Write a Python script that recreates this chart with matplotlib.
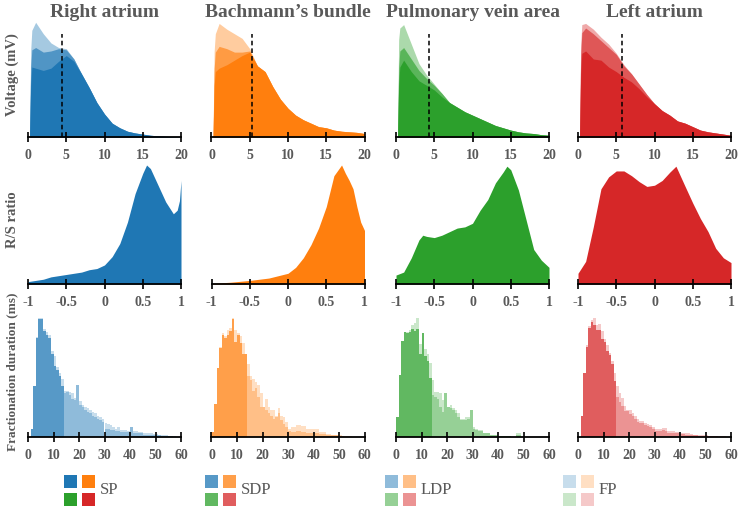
import numpy as np
import matplotlib
matplotlib.use("Agg")
import matplotlib.pyplot as plt
from matplotlib.patches import Rectangle
from matplotlib.colors import to_rgb

# regions / colours
regions = ["Right atrium", "Bachmann\u2019s bundle", "Pulmonary vein area", "Left atrium"]
colors = ["#1f77b4", "#ff7f0e", "#2ca02c", "#d62728"]

# ---- row 1 : voltage distributions (three overlaid layers) ----
volt_x = [0.2, 0.35, 0.5, 1, 2, 3, 4, 5, 6, 7, 8, 9, 10, 11, 12, 13, 14, 15, 16, 17, 18, 19, 20]
volt_dark = [
    [0, 0.45, 0.61, 0.60, 0.58, 0.60, 0.66, 0.71, 0.66, 0.55, 0.43, 0.30, 0.20, 0.12, 0.08, 0.05, 0.035, 0.025, 0.015, 0.01, 0.006, 0.003, 0.001],
    [0, 0.45, 0.57, 0.60, 0.63, 0.67, 0.71, 0.74, 0.62, 0.57, 0.44, 0.33, 0.25, 0.19, 0.15, 0.12, 0.09, 0.08, 0.06, 0.05, 0.045, 0.04, 0.03],
    [0, 0.45, 0.61, 0.67, 0.57, 0.49, 0.45, 0.41, 0.35, 0.30, 0.26, 0.22, 0.19, 0.16, 0.13, 0.10, 0.08, 0.06, 0.045, 0.035, 0.03, 0.02, 0.015],
    [0, 0.55, 0.73, 0.75, 0.68, 0.67, 0.61, 0.57, 0.52, 0.48, 0.42, 0.35, 0.29, 0.23, 0.19, 0.14, 0.12, 0.09, 0.06, 0.045, 0.035, 0.025, 0.015],
]
volt_mid = [
    [0, 0.60, 0.76, 0.78, 0.74, 0.75, 0.77, 0.76, 0.68, 0.55, 0.43, 0.30, 0.20, 0.12, 0.08, 0.05, 0.035, 0.025, 0.015, 0.01, 0.006, 0.003, 0.001],
    [0, 0.60, 0.74, 0.79, 0.77, 0.74, 0.74, 0.75, 0.62, 0.57, 0.44, 0.33, 0.25, 0.19, 0.15, 0.12, 0.09, 0.08, 0.06, 0.05, 0.045, 0.04, 0.03],
    [0, 0.60, 0.75, 0.78, 0.68, 0.58, 0.51, 0.45, 0.38, 0.30, 0.26, 0.22, 0.19, 0.16, 0.13, 0.10, 0.08, 0.06, 0.045, 0.035, 0.03, 0.02, 0.015],
    [0, 0.70, 0.91, 0.95, 0.90, 0.84, 0.78, 0.72, 0.62, 0.55, 0.46, 0.37, 0.29, 0.23, 0.19, 0.14, 0.12, 0.09, 0.06, 0.045, 0.035, 0.025, 0.015],
]
volt_light = [
    [0, 0.75, 0.93, 1.00, 0.90, 0.82, 0.78, 0.77, 0.68, 0.55, 0.43, 0.30, 0.20, 0.12, 0.08, 0.05, 0.035, 0.025, 0.015, 0.01, 0.006, 0.003, 0.001],
    [0, 0.75, 0.90, 0.99, 0.94, 0.90, 0.86, 0.77, 0.62, 0.57, 0.44, 0.33, 0.25, 0.19, 0.15, 0.12, 0.09, 0.08, 0.06, 0.05, 0.045, 0.04, 0.03],
    [0, 0.85, 0.95, 0.98, 0.81, 0.64, 0.54, 0.46, 0.38, 0.30, 0.26, 0.22, 0.19, 0.16, 0.13, 0.10, 0.08, 0.06, 0.045, 0.035, 0.03, 0.02, 0.015],
    [0, 0.80, 0.98, 0.99, 0.94, 0.87, 0.81, 0.73, 0.63, 0.55, 0.46, 0.37, 0.29, 0.23, 0.19, 0.14, 0.12, 0.09, 0.06, 0.045, 0.035, 0.025, 0.015],
]
volt_cut = [4.4, 5.35, 4.25, 5.7]

# ---- row 2 : R/S ratio ----
rs_x = [
    [-1, -0.9, -0.8, -0.7, -0.6, -0.5, -0.4, -0.3, -0.2, -0.1, 0, 0.1, 0.2, 0.3, 0.4, 0.5, 0.55, 0.6, 0.7, 0.8, 0.9, 0.95, 0.98, 1.0],
    [-1, -0.75, -0.5, -0.25, 0, 0.1, 0.2, 0.3, 0.4, 0.5, 0.55, 0.6, 0.7, 0.75, 0.8, 0.85, 0.9, 0.95, 1.0],
    [-1, -0.9, -0.8, -0.7, -0.65, -0.6, -0.5, -0.4, -0.3, -0.2, -0.1, 0, 0.1, 0.2, 0.3, 0.4, 0.45, 0.5, 0.6, 0.7, 0.8, 0.9, 1.0],
    [-1, -0.9, -0.8, -0.7, -0.6, -0.5, -0.4, -0.3, -0.2, -0.1, 0, 0.1, 0.2, 0.28, 0.4, 0.5, 0.6, 0.7, 0.8, 0.9, 1.0],
]
rs_y = [
    [0.02, 0.03, 0.04, 0.06, 0.07, 0.08, 0.09, 0.10, 0.12, 0.13, 0.16, 0.23, 0.34, 0.52, 0.76, 0.93, 1.0, 0.97, 0.83, 0.69, 0.59, 0.62, 0.70, 0.87],
    [0.005, 0.015, 0.03, 0.05, 0.09, 0.14, 0.22, 0.33, 0.47, 0.65, 0.78, 0.91, 1.0, 0.93, 0.87, 0.80, 0.65, 0.52, 0.45],
    [0.075, 0.10, 0.22, 0.37, 0.41, 0.40, 0.39, 0.41, 0.44, 0.47, 0.48, 0.51, 0.62, 0.71, 0.85, 0.94, 0.99, 0.96, 0.79, 0.54, 0.29, 0.20, 0.14],
    [0.09, 0.19, 0.48, 0.80, 0.90, 0.95, 0.95, 0.91, 0.86, 0.82, 0.83, 0.87, 0.94, 0.99, 0.82, 0.68, 0.55, 0.44, 0.30, 0.22, 0.18],
]

# ---- row 3 : fractionation duration, 1 ms bins 0..60 ----
frac_main = [
    [0, 0.07, 0.43, 0.83, 0.99, 0.99, 0.89, 0.86, 0.83, 0.70, 0.60, 0.56, 0.51, 0.43,
     0.37, 0.38, 0.35, 0.32, 0.31, 0.44, 0.27, 0.25, 0.23, 0.21, 0.20, 0.18, 0.17, 0.15, 0.14, 0.13,
     0.07, 0.07, 0.06, 0.06, 0.05, 0.05, 0.04, 0.04, 0.04, 0.04,
     0.08, 0.035, 0.035, 0.03, 0.03, 0.02, 0.02, 0.02, 0.02, 0.02,
     0.015, 0.015, 0.01, 0.01, 0.01, 0.005, 0.005, 0, 0, 0],
    [0.04, 0.28, 0.58, 0.75, 0.86, 0.83, 0.86, 0.89, 0.99, 0.80, 0.86, 0.79, 0.70, 0.70,
     0.51, 0.48, 0.39, 0.41, 0.34, 0.25, 0.25, 0.23, 0.20, 0.18, 0.15, 0.17, 0.20, 0.14, 0.11, 0.08,
     0.05, 0.045, 0.045, 0.05, 0.05, 0.045, 0.045, 0.035, 0.035, 0.035,
     0.03, 0.03, 0.025, 0.025, 0.025, 0.015, 0.015, 0.015, 0.015, 0.015,
     0.01, 0.01, 0, 0, 0, 0, 0, 0, 0, 0],
    [0.17, 0.52, 0.81, 0.88, 0.87, 0.88, 0.91, 0.89, 0.91, 0.70, 0.87, 0.68, 0.64, 0.50,
     0.35, 0.34, 0.32, 0.25, 0.21, 0.37, 0.25, 0.24, 0.23, 0.20, 0.17, 0.14, 0.14, 0.14, 0.15, 0.23,
     0.07, 0.06, 0.05, 0.05, 0.03, 0.03, 0.03, 0.015, 0.015, 0.015,
     0.01, 0.01, 0.01, 0.01, 0.005, 0, 0, 0.015, 0.015, 0,
     0, 0, 0, 0, 0, 0, 0, 0, 0, 0],
    [0, 0.18, 0.54, 0.76, 0.92, 0.97, 0.94, 0.90, 0.90, 0.82, 0.80, 0.72, 0.69, 0.61, 0.47,
     0.34, 0.29, 0.26, 0.22, 0.22, 0.19, 0.18, 0.15, 0.13, 0.12, 0.115, 0.10, 0.09, 0.08, 0.065,
     0.05, 0.05, 0.05, 0.055, 0.05, 0.035, 0.035, 0.035, 0.03, 0.03,
     0.025, 0.025, 0.02, 0.02, 0.02, 0.015, 0.015, 0.01, 0.01, 0.01,
     0.008, 0.008, 0.006, 0.006, 0.005, 0.004, 0.003, 0.003, 0.002, 0.002],
]
frac_fp = [
    [0, 0.07, 0.43, 0.84, 1.0, 1.0, 0.91, 0.88, 0.86, 0.72, 0.68, 0.59, 0.54, 0.49,
     0.39, 0.39, 0.38, 0.37, 0.33, 0.44, 0.30, 0.27, 0.25, 0.24, 0.23, 0.21, 0.20, 0.18, 0.17, 0.15,
     0.12, 0.11, 0.10, 0.085, 0.07, 0.08, 0.06, 0.055, 0.055, 0.05,
     0.08, 0.05, 0.05, 0.045, 0.04, 0.035, 0.03, 0.03, 0.03, 0.025,
     0.025, 0.02, 0.02, 0.015, 0.015, 0.01, 0.01, 0.005, 0, 0],
    [0.04, 0.28, 0.58, 0.76, 0.87, 0.85, 0.90, 0.92, 1.0, 0.90, 0.87, 0.85, 0.79, 0.70,
     0.61, 0.51, 0.49, 0.46, 0.44, 0.37, 0.25, 0.32, 0.25, 0.23, 0.23, 0.18, 0.24, 0.18, 0.17, 0.13,
     0.07, 0.08, 0.08, 0.10, 0.10, 0.09, 0.09, 0.07, 0.07, 0.07,
     0.07, 0.07, 0.04, 0.04, 0.04, 0.025, 0.025, 0.02, 0.02, 0.02,
     0.015, 0.01, 0.01, 0.005, 0.005, 0, 0, 0, 0, 0],
    [0.17, 0.52, 0.81, 0.88, 0.88, 0.90, 0.94, 0.96, 1.0, 0.78, 0.87, 0.74, 0.70, 0.62,
     0.48, 0.38, 0.38, 0.37, 0.31, 0.37, 0.25, 0.27, 0.24, 0.23, 0.20, 0.15, 0.15, 0.17, 0.17, 0.23,
     0.08, 0.07, 0.055, 0.055, 0.035, 0.035, 0.035, 0.02, 0.02, 0.02,
     0.01, 0.01, 0.01, 0.01, 0.005, 0, 0, 0.03, 0.03, 0,
     0, 0, 0, 0, 0, 0, 0, 0, 0, 0],
    [0, 0.18, 0.54, 0.77, 0.93, 0.98, 1.0, 0.94, 0.95, 0.89, 0.82, 0.77, 0.71, 0.64, 0.54,
     0.43, 0.37, 0.33, 0.26, 0.23, 0.23, 0.20, 0.18, 0.15, 0.135, 0.135, 0.12, 0.11, 0.10, 0.085,
     0.065, 0.065, 0.07, 0.075, 0.075, 0.05, 0.05, 0.05, 0.045, 0.045,
     0.03, 0.03, 0.03, 0.03, 0.025, 0.02, 0.02, 0.02, 0.015, 0.015,
     0.013, 0.012, 0.01, 0.01, 0.01, 0.008, 0.006, 0.005, 0.004, 0.003],
]
frac_cut = [14, 14, 14, 15]

legend_labels = ["SP", "SDP", "LDP", "FP"]
legend_alpha = [1.0, 0.75, 0.5, 0.25]

W, H = 738, 507
gray = "#595959"
serif = "Liberation Serif"


def mix(c, a):
    r = np.array(to_rgb(c))
    return tuple(a * r + (1 - a) * np.ones(3))


def px_axes(fig, x0, y_top, w, y_base):
    return fig.add_axes([x0 / W, 1 - y_base / H, w / W, (y_base - y_top) / H])


def style(ax, ticks, labels):
    for s in ["top", "right", "left"]:
        ax.spines[s].set_visible(False)
    ax.spines["bottom"].set_linewidth(1.3)
    ax.set_yticks([])
    ax.set_xticks(ticks)
    ax.set_xticklabels(labels)
    ax.tick_params(axis="x", direction="inout", length=7, width=1.2, pad=5,
                   labelsize=10, labelcolor=gray)
    for t in ax.get_xticklabels():
        t.set_fontfamily(serif)
        t.set_fontweight("bold")
    ax.set_facecolor("none")


fig = plt.figure(figsize=(W / 100, H / 100), dpi=100)

lefts = [28, 211.5, 396, 578]
width = 153

for i in range(4):
    c = colors[i]
    # row 1
    ax = px_axes(fig, lefts[i], 20, width, 137)
    ax.fill_between(volt_x, volt_light[i], color=mix(c, 0.4), lw=0)
    ax.fill_between(volt_x, volt_mid[i], color=mix(c, 0.78), lw=0)
    ax.fill_between(volt_x, volt_dark[i], color=c, lw=0)
    ax.vlines(volt_cut[i], 0, 0.9, colors="black", linestyles=(0, (3, 2)), lw=1.1)
    ax.set_xlim(0, 20)
    ax.set_ylim(0, 1.02)
    style(ax, [0, 5, 10, 15, 20], ["0", "5", "10", "15", "20"])
    ax.set_title(regions[i], fontfamily=serif, fontweight="bold", fontsize=14,
                 color=gray, y=1.0, pad=2)

    # row 2
    ax = px_axes(fig, lefts[i], 165, width, 284)
    ax.fill_between(rs_x[i], rs_y[i], color=c, lw=0)
    ax.set_xlim(-1, 1)
    ax.set_ylim(0, 1.0)
    style(ax, [-1, -0.5, 0, 0.5, 1], ["-1", "-0.5", "0", "0.5", "1"])

    # row 3
    ax = px_axes(fig, lefts[i], 318, width, 437)
    edges = np.arange(60)
    main = np.array(frac_main[i])
    ax.bar(edges, frac_fp[i], width=1, align="edge", color=mix(c, 0.25), lw=0)
    cut = frac_cut[i]
    ax.bar(edges[:cut], main[:cut], width=1, align="edge", color=mix(c, 0.75), lw=0)
    ax.bar(edges[cut:], main[cut:], width=1, align="edge", color=mix(c, 0.5), lw=0)
    ax.set_xlim(0, 60)
    ax.set_ylim(0, 1.0)
    style(ax, [0, 10, 20, 30, 40, 50, 60], ["0", "10", "20", "30", "40", "50", "60"])

# y labels
for txt, yc, fs in [("Voltage (mV)", 75, 10.5), ("R/S ratio", 220, 10.5),
                    ("Fractionation duration (ms)", 372, 9.5)]:
    fig.text(12 / W, 1 - yc / H, txt, rotation=90, ha="center", va="center",
             fontfamily=serif, fontweight="bold", fontsize=fs, color=gray)

# legend
leg_left = [64, 205, 385, 563]
sq = 13
for g in range(4):
    a = legend_alpha[g]
    for k in range(4):
        col = k % 2
        row = k // 2
        x = leg_left[g] + col * 18
        y = 475 + row * 18
        fig.add_artist(Rectangle((x / W, 1 - (y + sq) / H), sq / W, sq / H,
                                 transform=fig.transFigure,
                                 facecolor=mix(colors[k], a), edgecolor="none"))
    fig.text((leg_left[g] + 36) / W, 1 - 490 / H, legend_labels[g], ha="left",
             va="center", fontfamily=serif, fontsize=12, color=gray)

fig.savefig("out.png", dpi=100)
